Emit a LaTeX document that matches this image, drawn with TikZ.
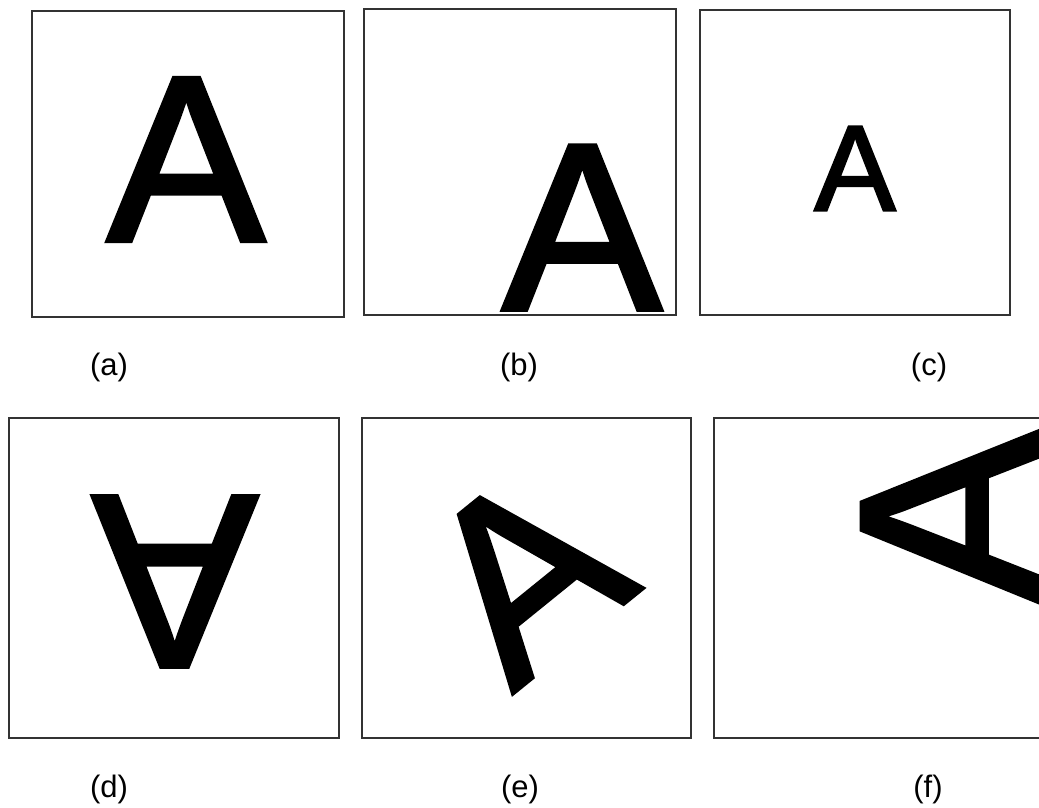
\documentclass[tikz,border=0pt]{standalone}
\usepackage{fontspec}
\setmainfont{Liberation Sans}
\newfontfamily\heavyA[FakeBold=2]{Liberation Sans}
\begin{document}
\begin{tikzpicture}[x=1pt,y=-1pt,
  panel/.style={draw=black!80, line width=1.1pt, fill=white, inner sep=0pt},
  glyph/.style={inner sep=0pt, outer sep=0pt, anchor=center, text=black},
  caption/.style={inner sep=0pt, font=\fontsize{31}{31}\selectfont}]
\path[use as bounding box] (0,0) rectangle (1039,808);
\clip (0,0) rectangle (1039,808);
% panels
\node[panel, minimum width=312pt, minimum height=306pt] (boxa) at (188,164) {};
\node[panel, minimum width=312pt, minimum height=306pt] (boxb) at (520,162) {};
\node[panel, minimum width=310pt, minimum height=305pt] (boxc) at (855,162.5) {};
\node[panel, minimum width=330pt, minimum height=320pt] (boxd) at (174,578) {};
\node[panel, minimum width=329pt, minimum height=320pt] (boxe) at (526.5,578) {};
\node[panel, minimum width=330pt, minimum height=320pt] (boxf) at (879,578) {};
% letters
\node[glyph, font=\heavyA\fontsize{236}{236}\selectfont] (la) at (186,159.5) {A};
\node[glyph, font=\heavyA\fontsize{238}{238}\selectfont] (lb) at (582,227.5) {A};
\node[glyph, font=\heavyA\fontsize{121.5}{121.5}\selectfont] (lc) at (855,168.5) {A};
\node[glyph, font=\heavyA\fontsize{247}{247}\selectfont, rotate=180] (ld) at (175,581.5) {A};
\node[glyph, font=\heavyA\fontsize{250}{250}\selectfont, rotate=39] (le) at (523.5,573.6) {A};
\node[glyph, font=\heavyA\fontsize{255}{255}\selectfont, rotate=90] (lf) at (950,516.7) {A};
% captions
\node[caption] (ca) at (109,367) {(a)};
\node[caption] (cb) at (519,367) {(b)};
\node[caption] (cc) at (929,367) {(c)};
\node[caption] (cd) at (109,789) {(d)};
\node[caption] (ce) at (520,789) {(e)};
\node[caption] (cf) at (928,789) {(f)};
\end{tikzpicture}
\end{document}
